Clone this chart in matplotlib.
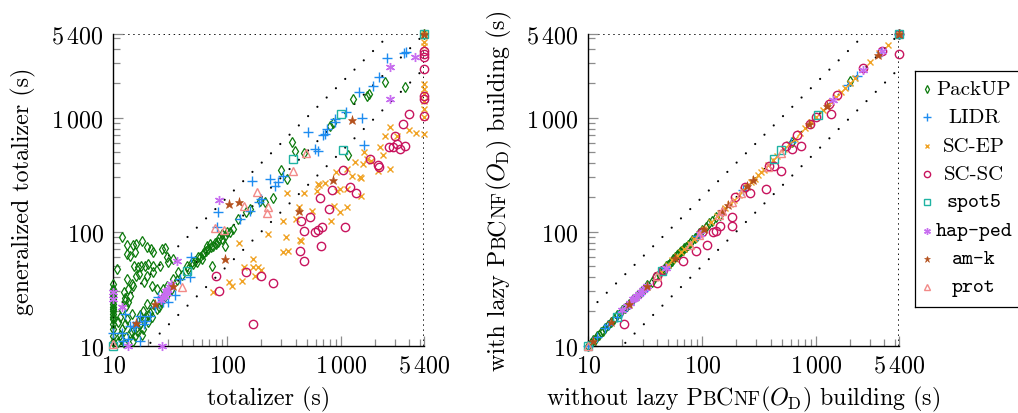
import matplotlib
matplotlib.use("Agg")
import matplotlib.pyplot as plt
from matplotlib.ticker import FixedLocator, FixedFormatter, NullFormatter

plt.rcParams.update({
    "font.family": "serif",
    "font.serif": ["cmr10"],
    "mathtext.fontset": "cm",
    "axes.unicode_minus": False,
})

# ---------------- data (seconds) ----------------
SERIES = ["PackUP", "LIDR", "SC-EP", "SC-SC", "spot5", "hap-ped", "am-k", "prot"]
TT_SERIES = ["spot5", "hap-ped", "am-k", "prot"]
TICK_VALUES = [10, 100, 1000, 5400]
TICK_LABELS = ["$10$", "$100$", "$1\\,000$", "$5\\,400$"]
MINOR_TICKS = [20, 30, 40, 50, 60, 70, 80, 90, 200, 300, 400, 500, 600, 700, 800, 900,
               2000, 3000, 4000, 5000]
AX_MIN, AX_MAX = 10, 5400
REF_RATIOS = [0.5, 1, 2]

# left panel: totalizer (x) vs generalized totalizer (y)
L_PACKUP = [(10, 34.7), (10, 31.4), (10, 28.4), (10, 25.7), (10, 23.2), (10, 21), (10, 19),
            (10, 17.1), (10, 15.5), (10, 14), (10, 12.2), (10, 10.7), (10, 30), (10, 27),
            (10, 22), (10, 20), (10, 18), (10, 24.5),
            (12, 89), (13.3, 76), (14.8, 76), (15.8, 78), (17.7, 82), (13.3, 64), (14, 61.5),
            (15.5, 66), (19.6, 73), (21.3, 70.5), (22.2, 66), (26.6, 70.5), (28.4, 71.4),
            (15.2, 50.3), (16.4, 48.7), (17.5, 50.3), (19, 50.3), (20.3, 52), (22.3, 50.3),
            (15.9, 41), (16.9, 42.6), (18.6, 36), (13.1, 38.5), (14.5, 34.7), (13.5, 31.4),
            (12.4, 29.8), (10.7, 47), (12.7, 24.8), (15, 33.6), (19.6, 41), (21.7, 33.6),
            (24, 31.4), (25.7, 50.3), (30.4, 54), (33.6, 57.5), (29.4, 59.5), (22.4, 44),
            (13.1, 17.1), (14.5, 19), (16.1, 14.5), (18.4, 14), (15.5, 12.2), (14.5, 13.1),
            (12.7, 15.5), (11.8, 11.4), (11.1, 10.7), (17.1, 18.4), (18.4, 20.3), (20.3, 18.4),
            (24, 21), (22.4, 23.2), (26.6, 25.7), (19.6, 23.2), (29.4, 33.6), (27.5, 31.4),
            (33.6, 38.5), (37.2, 44), (44, 50.3), (48.8, 54), (54, 54), (57.7, 59.5),
            (61.7, 63.8), (66, 75.5), (70.5, 78), (75.5, 75.5), (83.7, 80.5), (89.5, 86.3),
            (95.7, 92.3), (106, 98.7), (73, 50.3), (95.7, 75.5), (113, 106), (125, 129),
            (148, 148), (159, 159), (194, 187), (214, 183), (254, 196), (295, 344), (333, 289),
            (395, 511), (369, 612), (472, 488), (800, 850), (857, 896), (1163, 465),
            (1272, 1459), (1710, 1540), (1780, 1616), (2445, 2044), (3635, 1840), (5400, 5400),
            (11.5, 12.5), (12, 14), (12.5, 10.5), (13, 12), (14, 13), (15, 11), (16, 13.5),
            (17, 15.5), (18, 12.5), (19, 17), (20, 16), (21, 19.5), (22, 18), (25, 22),
            (26, 24), (28, 26), (30, 29), (32, 31), (11, 16), (11.5, 18), (12, 20.5),
            (13, 22.5), (14, 27), (12.6, 26), (13.5, 24),
            (50, 52), (56, 60), (63, 66), (68, 70), (78, 80), (85, 88), (90, 95), (100, 100),
            (60, 58), (72, 74), (80, 78), (45, 47), (40, 42), (36, 38), (52, 55), (65, 68)]
L_LIDR = [(10, 13), (11.9, 13), (12.2, 11), (14.9, 15), (17.2, 11), (13.5, 11.4), (12.7, 19),
          (14, 15), (17.2, 18.3), (19, 16.6), (21, 18.3), (23.2, 21.7), (24.8, 26.7), (27.5, 24),
          (30, 24.3), (34.8, 27.8), (38.5, 38.5), (47, 40), (48.6, 60), (83, 150), (81, 110),
          (129, 129), (158, 152), (190, 183), (200, 193), (166, 280), (238, 289), (263, 253),
          (278, 273), (311, 309), (516, 745), (590, 531), (630, 511), (700, 697), (725, 720),
          (760, 796), (880, 970), (890, 905), (1100, 1120), (1450, 1660), (1530, 990),
          (1600, 570), (1900, 1900), (2150, 2260), (2550, 3300), (3600, 3700), (3700, 3750),
          (15.5, 14.5), (16, 16), (18.5, 15.5)]
L_SCEP = [(74.5, 29.4), (104, 36), (110, 33.6), (134, 37), (142, 48.7), (168, 48.7), (188, 48.7),
          (200, 46), (175, 41), (168, 57.5), (128, 79.5), (227, 95.5), (308, 123), (403, 129),
          (430, 164), (330, 89.7), (436, 85), (312, 66.9), (342, 68), (338, 218), (470, 216),
          (643, 254), (610, 229), (630, 262), (720, 268), (980, 236), (920, 226), (1120, 236),
          (1510, 206), (870, 168), (980, 150), (1120, 164), (560, 152), (820, 125), (450, 83),
          (1580, 496), (1330, 410), (1550, 395), (2350, 465), (2700, 355), (2130, 340),
          (1250, 310), (1510, 295), (2700, 824), (2440, 694), (3100, 694), (3980, 785),
          (4600, 735), (2200, 550), (1850, 420), (1680, 435), (1120, 355), (1470, 300),
          (910, 330), (5400, 4580), (5400, 4200), (5400, 1977), (5400, 1790), (5400, 1600),
          (5400, 1400), (5400, 1190), (5400, 1020), (5400, 720), (5400, 5400)]
L_SCSC = [(80, 41), (84, 30), (170, 15.5), (146, 44.7), (200, 41), (255, 35.5), (436, 68),
          (446, 123), (470, 102), (472, 55.5), (590, 99.5), (630, 103), (675, 110), (670, 75.5),
          (780, 158), (660, 196), (830, 233), (1090, 110), (1040, 345), (1200, 244), (1360, 217),
          (540, 134), (1790, 432), (2100, 385), (2170, 365), (2650, 549), (2860, 550),
          (3100, 585), (3300, 530), (3630, 565), (2980, 694), (3500, 880), (4000, 1070),
          (5400, 3870), (5400, 3620), (5400, 3390), (5400, 2680), (5400, 1550), (5400, 1460),
          (5400, 1042)]
L_SPOT5 = [(10, 10), (44, 45.5), (380, 432), (1000, 1070), (1045, 515), (5400, 5400)]
L_HAPPED = [(10, 29.4), (10, 25.7), (12, 21.7), (13.5, 10), (27, 10), (28.4, 27.5), (29.5, 29),
            (30.5, 31), (31.5, 33), (32, 35), (27, 26.5), (26, 25), (29, 30), (36, 55.6),
            (84, 190), (2700, 2780), (2690, 1460), (4500, 3390)]
L_AMK = [(15.9, 15.8), (23.2, 23.3), (33.6, 33.6), (104, 173), (128, 183), (95, 58), (430, 153),
         (857, 284), (1250, 950), (5400, 5400)]
L_PROT = [(10, 10.3), (40, 33), (78, 107), (94, 104), (141, 168), (184, 224), (230, 164),
          (222, 145), (377, 338), (495, 489)]

# right panel: without (x) vs with (y) lazy PBCNF(O_D) building
R_PACKUP = [(10, 10), (10.5, 10.6), (11, 11.2), (11.5, 11.3), (12, 12.2), (12.5, 12.4), (13, 13.2),
            (13.5, 13.4), (14, 14.3), (15, 15.1), (16, 16.2), (17, 17.1), (18, 18.4), (19, 19.2),
            (20, 20.5), (21, 21.3), (22, 22.5), (23, 23.2), (25, 25.6), (27, 27.3), (29, 29.6),
            (31, 31.2), (33, 33.8), (36, 36.5), (39, 39.8), (42, 42.5), (44, 45.5), (46, 47),
            (48, 49.5), (50, 51), (52, 53.5), (54, 55.5), (56, 57), (58, 60), (60, 62),
            (62, 63.5), (64, 66), (66, 68), (68, 69), (70, 72), (72, 73), (75, 77), (78, 80),
            (82, 84), (86, 88), (90, 92), (95, 97), (100, 103), (108, 110), (115, 118),
            (122, 124), (133, 134), (145, 140), (614, 616), (2000, 2110), (5400, 5400)]
R_LIDR = [(10, 10), (12, 12), (14, 14.2), (15, 15.2), (17.8, 18), (20, 20), (23, 23), (30, 30),
          (48, 48), (90, 91), (230, 232), (600, 605), (1900, 1920), (2290, 2335), (3700, 3720),
          (5400, 5400)]
R_SCEP = [(44, 44), (50, 50.5), (55, 56), (60, 61), (65, 66), (70, 70.5), (78, 78.5), (85, 86),
          (95, 95), (105, 106), (120, 121), (135, 136), (145, 146), (160, 160), (175, 175),
          (190, 191), (210, 210), (230, 232), (250, 252), (270, 272), (290, 290), (310, 312),
          (330, 332), (350, 350), (380, 382), (420, 425), (460, 462), (520, 525), (580, 585),
          (650, 655), (720, 725), (800, 805), (900, 905), (1000, 1005), (1150, 1155),
          (1250, 1260), (1350, 1360), (1500, 1510), (1650, 1660), (1800, 1820), (2000, 2020),
          (2200, 2210), (3000, 3050), (3600, 3650), (4300, 4350), (5400, 5400)]
R_SCSC = [(40, 41), (45, 46), (100, 100), (195, 200), (239, 245), (390, 378), (548, 560),
          (686, 703), (895, 880), (1000, 1005), (1300, 1310), (1540, 1590), (2620, 2700),
          (3840, 3870), (5400, 5400),
          (20.5, 15.5), (40.6, 35.5), (67.6, 55.7), (87.8, 68), (110, 76.4), (124, 98.6),
          (132, 102), (145, 111), (184, 111), (185, 134), (262, 217), (367, 237), (495, 343),
          (427, 379), (620, 531), (735, 568), (1355, 1077), (5400, 3613)]
R_SPOT5 = [(10, 10), (17.8, 18), (44.3, 45.4), (427, 431), (498, 515), (1050, 1055), (5400, 5400)]
R_HAPPED = [(20, 20.5), (22, 22.3), (23.5, 23.8), (25, 25.5), (26, 26.4), (27, 27.5), (28, 28.3),
            (29, 29.5), (30, 30.6), (31.5, 32), (33, 33.5), (48, 48), (96, 96), (150, 150),
            (1420, 1430), (2600, 2620), (3800, 3820)]
R_AMK = [(11, 11), (16, 16.2), (23, 23.4), (33, 33.5), (58, 58.5), (105, 106), (150, 151),
         (170, 171), (250, 252), (280, 282), (870, 880), (1250, 1260), (3500, 3520), (5400, 5400)]
R_PROT = [(10, 10), (40, 40.5), (78, 77), (94, 93), (141, 140), (150, 151), (184, 182),
          (222, 220), (377, 372), (495, 490)]

LEFT = dict(zip(SERIES, [L_PACKUP, L_LIDR, L_SCEP, L_SCSC, L_SPOT5, L_HAPPED, L_AMK, L_PROT]))
RIGHT = dict(zip(SERIES, [R_PACKUP, R_LIDR, R_SCEP, R_SCSC, R_SPOT5, R_HAPPED, R_AMK, R_PROT]))

# ---------------- styles ----------------
STYLE = {
    "PackUP": dict(marker="d", mfc="none", mec="#0c7a0c", ms=5.0, mew=0.9),
    "LIDR": dict(marker="+", color="#1e8cf0", ms=7.0, mew=1.0),
    "SC-EP": dict(marker="x", color="#f0a325", ms=4.8, mew=1.0),
    "SC-SC": dict(marker="o", mfc="none", mec="#c8145e", ms=6.0, mew=1.0),
    "spot5": dict(marker="s", mfc="none", mec="#1fb3a3", ms=6.0, mew=1.0),
    "hap-ped": dict(marker=(6, 2, 0), color="#c86ef0", ms=6.5, mew=1.0),
    "am-k": dict(marker="*", color="#b4501c", ms=6.5, mew=0.4),
    "prot": dict(marker="^", mfc="none", mec="#f28a88", ms=6.0, mew=1.0),
}

FS = 17.3
W_PX, H_PX = 1018, 414
fig = plt.figure(figsize=(W_PX / 100, H_PX / 100), dpi=100)


def px_axes(x0, y0, x1, y1):
    return fig.add_axes([x0 / W_PX, 1 - y1 / H_PX, (x1 - x0) / W_PX, (y1 - y0) / H_PX])


def panel(ax, data):
    ax.set_xscale("log")
    ax.set_yscale("log")
    ref = [AX_MIN, AX_MAX]
    for r in REF_RATIOS:
        ax.plot(ref, [r * v for v in ref], color="black", lw=1.6,
                linestyle=(0, (0.01, 5.9)), dash_capstyle="round", zorder=1)
    ax.axhline(AX_MAX, color="black", lw=1.3, linestyle=(0, (0.8, 2.0)), zorder=1)
    ax.axvline(AX_MAX, color="black", lw=1.3, linestyle=(0, (0.8, 2.0)), zorder=1)
    for name in SERIES:
        pts = data[name]
        ax.plot([p[0] for p in pts], [p[1] for p in pts], linestyle="none",
                clip_on=False, zorder=3, **STYLE[name])
    ax.set_xlim(AX_MIN, AX_MAX)
    ax.set_ylim(AX_MIN, AX_MAX)
    for s in ("top", "right"):
        ax.spines[s].set_visible(False)
    for s in ("left", "bottom"):
        ax.spines[s].set_linewidth(1.0)
    for axis in (ax.xaxis, ax.yaxis):
        axis.set_major_locator(FixedLocator(TICK_VALUES))
        axis.set_major_formatter(FixedFormatter(TICK_LABELS))
        axis.set_minor_locator(FixedLocator(MINOR_TICKS))
        axis.set_minor_formatter(NullFormatter())
    ax.tick_params(which="both", direction="in", top=False, right=False,
                   color="0.55", width=0.9, labelsize=FS)
    ax.tick_params(which="major", length=7.5)
    ax.tick_params(which="minor", length=4.8)
    ax.tick_params(axis="x", pad=6)
    ax.tick_params(axis="y", pad=7)


axL = px_axes(113.3, 35, 424.3, 346.7)
axR = px_axes(588.2, 35, 899.2, 346.7)
panel(axL, LEFT)
panel(axR, RIGHT)


def rich_label(pieces, cx, cy, vertical):
    """pieces: (text, fontsize). cx, cy in px from top-left.
    horizontal: cx = centre, cy = baseline; vertical: cx = baseline, cy = centre."""
    r = fig.canvas.get_renderer()
    widths = []
    for s, fs in pieces:
        t = fig.text(0, 0, s, fontsize=fs)
        widths.append(t.get_window_extent(r).width)
        t.remove()
    total = sum(widths)
    if vertical:
        pos = (H_PX - cy) - total / 2
    else:
        pos = cx - total / 2
    for (s, fs), w in zip(pieces, widths):
        if vertical:
            fig.text(cx / W_PX, pos / H_PX, s, fontsize=fs, rotation=90,
                     rotation_mode="anchor", ha="left", va="baseline")
        else:
            fig.text(pos / W_PX, 1 - cy / H_PX, s, fontsize=fs,
                     ha="left", va="baseline")
        pos += w


SC = FS * 0.8
rich_label([("totalizer (s)", FS)], 268.8, 405, False)
rich_label([("generalized totalizer (s)", FS)], 29, 190.8, True)
rich_label([("without lazy P", FS), ("B", SC), ("C", FS), ("NF", SC),
            ("($O_{\\mathrm{D}}$) building (s)", FS)], 743.7, 405.5, False)
rich_label([("with lazy P", FS), ("B", SC), ("C", FS), ("NF", SC),
            ("($O_{\\mathrm{D}}$) building (s)", FS)], 505, 190.8, True)

# ---------------- legend ----------------
LEG_X0, LEG_Y0, LEG_X1, LEG_Y1 = 915, 71.7, 1030, 308.3
lg = px_axes(LEG_X0, LEG_Y0, LEG_X1, LEG_Y1)
lg.set_xlim(0, LEG_X1 - LEG_X0)
lg.set_ylim(LEG_Y1 - LEG_Y0, 0)
lg.set_xticks([])
lg.set_yticks([])
for s in lg.spines.values():
    s.set_linewidth(0.9)
row0, row_step = 18.3, 28.33
for i, name in enumerate(SERIES):
    y = row0 + i * row_step
    st = dict(STYLE[name])
    st["ms"] = st["ms"] * 0.75
    lg.plot([11.7], [y], linestyle="none", **st)
    fam = "cmtt10" if name in TT_SERIES else "cmr10"
    lg.text(59, y, name, fontsize=15, family=fam, ha="center", va="center")

fig.savefig("out.png", dpi=100)
